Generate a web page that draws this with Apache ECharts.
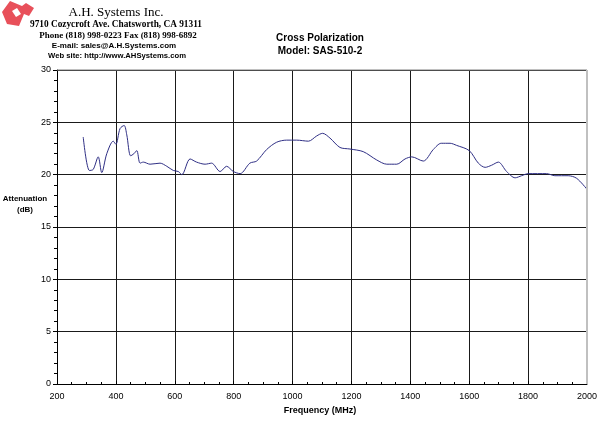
<!DOCTYPE html>
<html>
<head>
<meta charset="utf-8">
<script src="https://cdn.jsdelivr.net/npm/echarts@6/dist/echarts.min.js"></script>
<style>html,body{margin:0;padding:0;background:#fff;}#c{width:600px;height:426px;}</style>
</head>
<body>
<div id="c"></div>
<script>
const freqMHz = [289, 310, 323, 340, 352, 369, 391, 400, 414, 428, 437, 450, 461, 471, 482, 493, 516, 550, 573, 595, 612, 624, 652, 674, 703, 725, 754, 776, 799, 822, 855, 878, 912, 946, 980, 1014, 1054, 1082, 1102, 1127, 1161, 1195, 1240, 1286, 1320, 1354, 1382, 1405, 1444, 1478, 1505, 1535, 1557, 1600, 1631, 1654, 1676, 1699, 1727, 1756, 1778, 1801, 1863, 1891, 1936, 1965, 2000];
const attenDb = [23.6, 20.4, 20.5, 21.7, 20.2, 22.0, 23.2, 22.9, 24.4, 24.7, 23.8, 21.8, 22.0, 22.3, 21.1, 21.2, 21.0, 21.1, 20.8, 20.4, 20.3, 20.0, 21.5, 21.2, 21.0, 21.1, 20.3, 20.8, 20.3, 20.1, 21.1, 21.3, 22.4, 23.1, 23.3, 23.3, 23.2, 23.7, 23.95, 23.5, 22.6, 22.45, 22.2, 21.4, 21.0, 21.0, 21.5, 21.7, 21.3, 22.4, 23.0, 23.0, 22.8, 22.3, 21.1, 20.7, 20.9, 21.2, 20.3, 19.7, 19.9, 20.1, 20.1, 19.9, 19.9, 19.65, 18.6];
const titleLines = ["Cross Polarization", "Model: SAS-510-2"];
const xAxisTitle = "Frequency (MHz)";
const yAxisTitle = ["Attenuation", "(dB)"];
const companyLines = ["A.H. Systems Inc.", "9710 Cozycroft Ave. Chatsworth, CA 91311", "Phone (818) 998-0223 Fax (818) 998-6892", "E-mail: sales@A.H.Systems.com", "Web site: http://www.AHSystems.com"];

const chart = echarts.init(document.getElementById('c'), null, {renderer: 'canvas'});
const gridCol = '#1a1a1a';
chart.setOption({
  animation: false,
  backgroundColor: '#fff',
  grid: {left: 57, right: 13, top: 70, bottom: 42},
  xAxis: {
    type: 'value', min: 200, max: 2000, interval: 200,
    axisLine: {show: true, lineStyle: {color: '#000', width: 1}},
    axisTick: {show: true, inside: true, length: 3, lineStyle: {color: '#000'}},
    minorTick: {show: true, splitNumber: 4, length: 2, lineStyle: {color: '#000'}},
    splitLine: {show: true, lineStyle: {color: gridCol, width: 1}},
    axisLabel: {color: '#000', fontSize: 9, fontFamily: 'Arial, Liberation Sans', margin: 8, formatter: v => String(v)}
  },
  yAxis: {
    type: 'value', min: 0, max: 30, interval: 5,
    axisLine: {show: true, lineStyle: {color: '#000', width: 1}},
    axisTick: {show: true, length: 4, lineStyle: {color: '#000'}},
    minorTick: {show: true, splitNumber: 5, length: 3, lineStyle: {color: '#000'}},
    splitLine: {show: true, lineStyle: {color: gridCol, width: 1}},
    axisLabel: {color: '#000', fontSize: 9, fontFamily: 'Arial, Liberation Sans', margin: 6}
  },
  series: [{
    type: 'line',
    data: freqMHz.map((f, i) => [f, attenDb[i]]),
    smooth: 0.3,
    symbol: 'none',
    lineStyle: {color: '#2f2f85', width: 1}
  }],
  graphic: [
    {type: 'line', shape: {x1: 57, y1: 70, x2: 587, y2: 70}, style: {stroke: '#808080', lineWidth: 1}, z: 10},
    {type: 'line', shape: {x1: 587, y1: 70, x2: 587, y2: 384}, style: {stroke: '#c0c0c0', lineWidth: 2}, z: 10},
    {type: 'polygon', shape: {points: [[2,12],[10,1],[22,6],[26,3],[34,8],[29,16],[24,14],[19,26],[7,24]]}, style: {fill: '#e8505a'}},
    {type: 'polygon', shape: {points: [[12,11],[17,8],[21,14],[16,17]]}, style: {fill: '#fff'}},
    {type: 'text', style: {text: companyLines[0], x: 116, y: 13, textAlign: 'center', textVerticalAlign: 'middle', font: '13px "Liberation Serif", serif', fill: '#000'}},
    {type: 'text', style: {text: companyLines[1], x: 116, y: 25, textAlign: 'center', textVerticalAlign: 'middle', font: 'bold 9.3px "Liberation Serif", serif', fill: '#000'}},
    {type: 'text', style: {text: companyLines[2], x: 118, y: 36, textAlign: 'center', textVerticalAlign: 'middle', font: 'bold 9px "Liberation Serif", serif', fill: '#000'}},
    {type: 'text', style: {text: companyLines[3], x: 114, y: 46, textAlign: 'center', textVerticalAlign: 'middle', font: 'bold 8px "Liberation Sans", Arial, sans-serif', fill: '#000'}},
    {type: 'text', style: {text: companyLines[4], x: 117, y: 56, textAlign: 'center', textVerticalAlign: 'middle', font: 'bold 7.7px "Liberation Sans", Arial, sans-serif', fill: '#000'}},
    {type: 'text', style: {text: titleLines[0], x: 320, y: 38, textAlign: 'center', textVerticalAlign: 'middle', font: 'bold 10px "Liberation Sans", Arial, sans-serif', fill: '#000'}},
    {type: 'text', style: {text: titleLines[1], x: 320, y: 51, textAlign: 'center', textVerticalAlign: 'middle', font: 'bold 10px "Liberation Sans", Arial, sans-serif', fill: '#000'}},
    {type: 'text', style: {text: yAxisTitle[0], x: 25, y: 199, textAlign: 'center', textVerticalAlign: 'middle', font: 'bold 8px "Liberation Sans", Arial, sans-serif', fill: '#000'}},
    {type: 'text', style: {text: yAxisTitle[1], x: 25, y: 210, textAlign: 'center', textVerticalAlign: 'middle', font: 'bold 8px "Liberation Sans", Arial, sans-serif', fill: '#000'}},
    {type: 'text', style: {text: xAxisTitle, x: 320, y: 411, textAlign: 'center', textVerticalAlign: 'middle', font: 'bold 9px "Liberation Sans", Arial, sans-serif', fill: '#000'}}
  ]
});
</script>
</body>
</html>
